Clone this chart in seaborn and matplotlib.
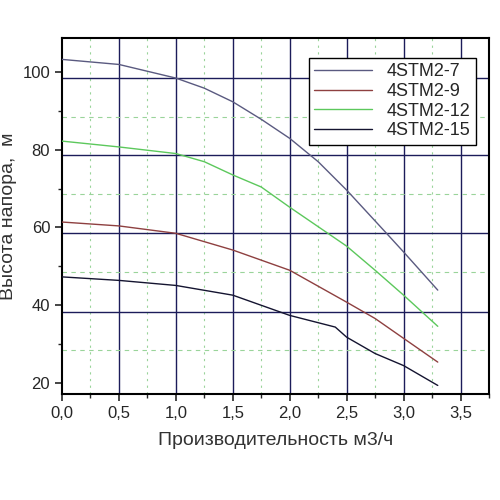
import pandas as pd
import seaborn as sns
import matplotlib.pyplot as plt
from matplotlib.ticker import MultipleLocator, FuncFormatter

# curves
q_7 = [0.0, 0.5, 1.0, 1.25, 1.5, 1.75, 2.0, 2.25, 2.5, 2.85, 3.0, 3.3]
h_7 = [103.2, 101.9, 98.4, 95.8, 92.3, 87.8, 82.9, 76.9, 69.6, 58.5, 53.7, 43.9]
q_9 = [0.0, 0.5, 1.0, 1.5, 2.0, 2.5, 2.75, 3.0, 3.3]
h_9 = [61.4, 60.4, 58.5, 54.2, 49.0, 40.8, 36.6, 31.5, 25.4]
q_12 = [0.0, 0.5, 1.0, 1.25, 1.5, 1.75, 2.0, 2.5, 2.75, 3.0, 3.3]
h_12 = [82.2, 80.7, 79.0, 76.9, 73.5, 70.4, 65.2, 55.2, 49.0, 42.6, 34.6]
q_15 = [0.0, 0.5, 1.0, 1.5, 2.0, 2.4, 2.5, 2.75, 3.0, 3.3]
h_15 = [47.3, 46.4, 45.1, 42.6, 37.4, 34.4, 31.8, 27.6, 24.5, 19.4]

names = ['4STM2-7', '4STM2-9', '4STM2-12', '4STM2-15']
colors = ['#5a5a80', '#8e4040', '#5cc85c', '#141430']

frames = []
for name, q, h in zip(names, [q_7, q_9, q_12, q_15], [h_7, h_9, h_12, h_15]):
    frames.append(pd.DataFrame({'q': q, 'h': h, 'pump': name}))
df = pd.concat(frames, ignore_index=True)

sns.set_style('white')
plt.rcParams['font.family'] = ['Liberation Sans', 'DejaVu Sans']
fig = plt.figure(figsize=(5, 5), dpi=100)
ax = fig.add_axes([0.124, 0.212, 0.854, 0.712])

# grid: navy major, green dashed minor (offset as in the original)
for x in [0.5, 1.0, 1.5, 2.0, 2.5, 3.0, 3.5]:
    ax.axvline(x, color='#1c1c5a', lw=1.0, zorder=1)
for x in [0.25, 0.75, 1.25, 1.75, 2.25, 2.75, 3.25]:
    ax.axvline(x, color='#9ad49a', lw=0.8, ls=(0, (2, 4)), zorder=1)
for y in [98.5, 78.5, 58.5, 38.4]:
    ax.axhline(y, color='#1c1c5a', lw=1.0, zorder=1)
for y in [88.3, 68.6, 48.6, 28.5]:
    ax.axhline(y, color='#9ad49a', lw=0.8, ls=(0, (4, 4)), zorder=1)

sns.lineplot(data=df, x='q', y='h', hue='pump', hue_order=names, palette=colors,
             lw=1.0, sort=False, ax=ax, zorder=3)

ax.set_xlim(0, 3.75)
ax.set_ylim(17.2, 108.7)
ax.xaxis.set_major_locator(MultipleLocator(0.5))
ax.xaxis.set_minor_locator(MultipleLocator(0.25))
ax.yaxis.set_major_locator(MultipleLocator(20))
ax.yaxis.set_minor_locator(MultipleLocator(10))
ax.xaxis.set_major_formatter(FuncFormatter(lambda v, p: f'{v:.1f}'.replace('.', ',')))
ax.tick_params(which='major', direction='out', length=5, width=1.2, labelsize=12, bottom=True, left=True)
ax.tick_params(which='minor', direction='out', length=3, width=1.0, bottom=True, left=True)
for s in ax.spines.values():
    s.set_linewidth(1.5)
    s.set_color('black')

ax.set_xlabel('Производительность м3/ч', fontsize=14, color='#333333', labelpad=8)
ax.set_ylabel('Высота напора,  м', fontsize=14, color='#333333', labelpad=4)

leg = ax.legend(loc='upper right', fontsize=13, frameon=True, fancybox=False,
                handlelength=3.2, borderpad=0.3, labelspacing=0.15,
                bbox_to_anchor=(0.99, 0.97))
leg.get_frame().set_edgecolor('black')
leg.get_frame().set_linewidth(1.0)
leg.get_frame().set_alpha(1)

fig.savefig('out.png', dpi=100)
